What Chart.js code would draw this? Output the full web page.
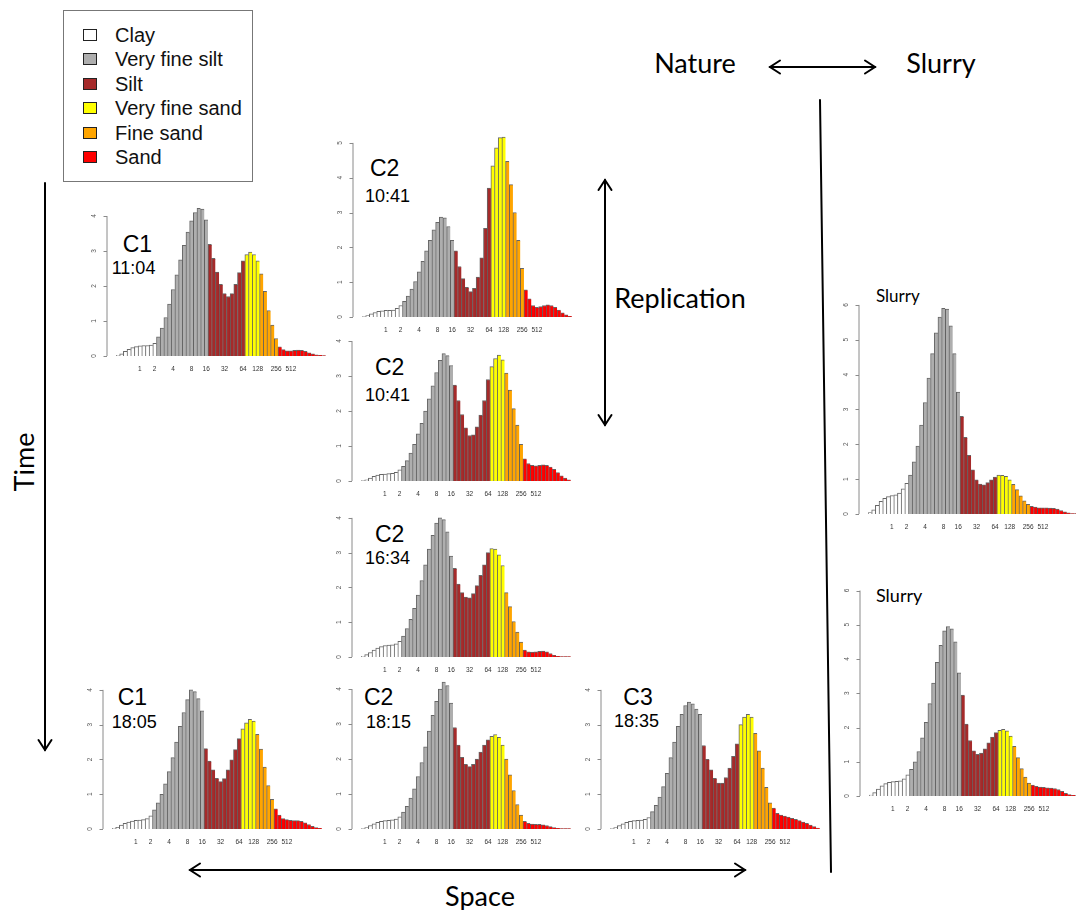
<!DOCTYPE html>
<html>
<head>
<meta charset="utf-8">
<script src="https://cdn.jsdelivr.net/npm/chart.js@4.4.1/dist/chart.umd.min.js"></script>
<style>
  html, body { margin: 0; padding: 0; background: #fff; }
  #stage { position: relative; width: 1076px; height: 910px; overflow: hidden; background: #fff; }
  #stage canvas { position: absolute; }
  #overlay { position: absolute; left: 0; top: 0; }
  #legend { position: absolute; left: 63px; top: 10px; width: 190px; height: 172px;
            border: 1px solid #777; box-sizing: border-box; font-family: "Liberation Sans", Arial, sans-serif; }
  .lrow { position: absolute; left: 0; height: 24px; line-height: 24px; font-size: 20px; color: #111; }
  .lsw { position: absolute; left: 19px; top: 6px; width: 12px; height: 10px; border: 1px solid #222; }
  .ltx { position: absolute; left: 51px; top: 0; white-space: nowrap; }
</style>
</head>
<body>
<div id="stage">
  <div id="legend"></div>
  <svg id="overlay" width="1076" height="910" xmlns="http://www.w3.org/2000/svg"></svg>
</div>
<script>
// Grain-size classes: first bin index of each class, names and fill colours
const CLASS_NAMES  = ['Clay', 'Very fine silt', 'Silt', 'Very fine sand', 'Fine sand', 'Sand'];
const CLASS_COLORS = ['#FFFFFF', '#AEAEAE', '#A52A2A', '#FFFF00', '#FFA500', '#FF0000'];
const CLASS_START  = [0, 11, 25, 35, 39, 44];
const BIN_COUNT    = 57;

// Size axis labels (µm) and the bins they sit under
const TICK_LABELS = ['1', '2', '4', '8', '16', '32', '64', '128', '256', '512'];
const TICK_BINS   = [6, 10, 15, 20, 24, 29, 34, 38, 43, 47];

// Volume percentage per bin for each sample
const c1_1104 = [0.02,0.06,0.13,0.19,0.24,0.27,0.29,0.30,0.30,0.31,0.36,
  0.55,0.80,1.10,1.48,1.90,2.32,2.75,3.16,3.54,3.86,4.10,4.22,4.20,3.89,
  3.19,2.79,2.40,2.05,1.78,1.70,1.78,2.05,2.38,2.72,
  2.90,2.97,2.90,2.72,
  2.35,1.85,1.30,0.88,0.50,
  0.26,0.18,0.15,0.15,0.16,0.17,0.16,0.13,0.09,0.06,0.03,0.02,0.01];
const c2_1041a = [0.01,0.04,0.09,0.13,0.16,0.18,0.19,0.19,0.20,0.25,0.33,
  0.45,0.60,0.80,1.02,1.30,1.60,1.90,2.20,2.50,2.72,2.87,2.85,2.60,2.20,
  1.90,1.45,1.10,0.85,0.73,0.82,1.15,1.70,2.55,3.70,
  4.34,4.86,5.15,5.17,
  4.47,3.80,3.00,2.20,1.40,
  0.78,0.52,0.33,0.28,0.30,0.33,0.35,0.33,0.28,0.20,0.12,0.06,0.02];
const c2_1041b = [0.01,0.03,0.08,0.13,0.17,0.19,0.20,0.21,0.22,0.25,0.32,
  0.42,0.58,0.80,1.05,1.35,1.65,2.00,2.35,2.72,3.10,3.45,3.64,3.58,3.30,
  2.74,2.30,1.90,1.52,1.30,1.32,1.55,1.88,2.30,2.90,
  3.27,3.50,3.60,3.46,
  3.08,2.60,2.07,1.60,1.05,
  0.63,0.50,0.45,0.43,0.45,0.46,0.45,0.40,0.33,0.24,0.15,0.08,0.03];
const c2_1634 = [0.02,0.07,0.13,0.20,0.26,0.30,0.33,0.34,0.35,0.38,0.45,
  0.60,0.82,1.08,1.40,1.78,2.20,2.65,3.10,3.50,3.85,4.00,3.95,3.60,2.90,
  2.55,2.10,1.85,1.72,1.70,1.82,2.05,2.35,2.65,3.00,
  3.12,3.10,2.94,2.63,
  1.85,1.45,1.02,0.72,0.43,
  0.20,0.15,0.14,0.15,0.16,0.17,0.15,0.10,0.05,0.02,0.01,0.01,0.01];
const c1_1805 = [0.02,0.05,0.11,0.16,0.20,0.23,0.25,0.26,0.27,0.30,0.38,
  0.55,0.75,1.00,1.30,1.65,2.05,2.50,2.95,3.35,3.72,4.00,3.95,3.75,3.40,
  2.31,1.95,1.70,1.46,1.36,1.45,1.70,1.99,2.28,2.60,
  2.88,3.05,3.15,3.10,
  2.72,2.30,1.78,1.25,0.85,
  0.58,0.40,0.30,0.27,0.25,0.24,0.24,0.22,0.18,0.13,0.08,0.04,0.02];
const c2_1815 = [0.01,0.04,0.10,0.15,0.19,0.22,0.24,0.25,0.26,0.28,0.35,
  0.48,0.65,0.88,1.15,1.50,1.90,2.35,2.80,3.25,3.65,4.00,4.20,4.10,3.60,
  2.90,2.40,2.05,1.85,1.78,1.85,2.00,2.20,2.40,2.55,
  2.65,2.70,2.62,2.40,
  2.00,1.55,1.10,0.70,0.40,
  0.22,0.16,0.14,0.13,0.13,0.12,0.10,0.07,0.04,0.02,0.01,0.01,0.01];
const c3_1835 = [0.01,0.04,0.10,0.15,0.19,0.22,0.24,0.25,0.26,0.28,0.33,
  0.50,0.68,0.92,1.22,1.60,2.05,2.50,2.95,3.30,3.55,3.65,3.60,3.45,3.30,
  2.40,2.00,1.70,1.46,1.32,1.32,1.48,1.75,2.09,2.45,
  3.00,3.22,3.30,3.22,
  2.75,2.25,1.75,1.20,0.75,
  0.60,0.45,0.40,0.37,0.34,0.31,0.28,0.24,0.20,0.16,0.11,0.07,0.03];
const slurry_a = [0.04,0.12,0.25,0.36,0.45,0.50,0.53,0.55,0.60,0.72,0.88,
  1.12,1.50,1.95,2.55,3.20,3.90,4.60,5.20,5.65,5.90,5.88,5.40,4.60,3.50,
  2.80,2.20,1.68,1.27,0.98,0.86,0.84,0.90,0.98,1.06,
  1.12,1.11,1.08,0.98,
  0.85,0.70,0.52,0.38,0.28,
  0.22,0.20,0.18,0.18,0.18,0.17,0.16,0.14,0.10,0.06,0.03,0.01,0.01];
const slurry_b = [0.03,0.10,0.20,0.30,0.36,0.40,0.42,0.43,0.44,0.50,0.62,
  0.78,1.00,1.30,1.70,2.15,2.70,3.30,3.90,4.40,4.82,4.95,4.88,4.50,3.60,
  2.95,2.10,1.62,1.32,1.22,1.25,1.38,1.55,1.72,1.85,
  1.92,1.95,1.90,1.75,
  1.45,1.12,0.80,0.55,0.38,
  0.32,0.28,0.26,0.25,0.24,0.23,0.22,0.19,0.14,0.08,0.04,0.02,0.01];

// Category labels: blank except under the labelled sizes
const binLabels = Array.from({length: BIN_COUNT}, (_, i) => {
  const k = TICK_BINS.indexOf(i);
  return k >= 0 ? TICK_LABELS[k] : '';
});
// Fill colour of every bin from its class
const binColors = Array.from({length: BIN_COUNT}, (_, i) => {
  let c = 0;
  for (let k = 0; k < CLASS_START.length; k++) if (i >= CLASS_START[k]) c = k;
  return CLASS_COLORS[c];
});

// Panel placement: left edge of first bar, baseline, px per unit, top axis tick
const panels = [
  { values: c1_1104,  x0: 116, base: 356, unit: 34.9, ymax: 4 },
  { values: c2_1041a, x0: 362, base: 317, unit: 34.8, ymax: 5 },
  { values: c2_1041b, x0: 361, base: 481, unit: 34.9, ymax: 4 },
  { values: c2_1634,  x0: 361, base: 657, unit: 34.85, ymax: 4 },
  { values: c1_1805,  x0: 112, base: 829, unit: 34.75, ymax: 4 },
  { values: c2_1815,  x0: 361, base: 829, unit: 34.9, ymax: 4 },
  { values: c3_1835,  x0: 610, base: 829, unit: 34.8, ymax: 4 },
  { values: slurry_a, x0: 868, base: 514, unit: 34.8, ymax: 6 },
  { values: slurry_b, x0: 869, base: 796, unit: 34.3, ymax: 6 }
];

const BAR_W = 3.77;
const HEADROOM = 0.6;           // value room above the top tick
const PAD_L = 34, PAD_R = 2, PAD_T = 2, PAD_B = 22;

// Draws an R-style y axis: detached line, short ticks, labels turned parallel to it
const rAxis = {
  id: 'rAxis',
  afterDraw(chart, args, opts) {
    const ys = chart.scales.y, ctx = chart.ctx;
    const ax = chart.chartArea.left - 9.5;
    const top = opts.top;
    const y0 = ys.getPixelForValue(0), y1 = ys.getPixelForValue(top);
    ctx.save();
    ctx.strokeStyle = '#8a8a8a';
    ctx.lineWidth = 1;
    ctx.beginPath();
    ctx.moveTo(ax + 0.5, y0);
    ctx.lineTo(ax + 0.5, y1);
    for (let v = 0; v <= top; v++) {
      const y = Math.round(ys.getPixelForValue(v)) + 0.5;
      ctx.moveTo(ax + 0.5, y);
      ctx.lineTo(ax - 3, y);
    }
    ctx.stroke();
    ctx.fillStyle = '#555';
    ctx.font = '6.5px "Liberation Sans", Arial, sans-serif';
    ctx.textAlign = 'center';
    ctx.textBaseline = 'middle';
    for (let v = 0; v <= top; v++) {
      ctx.save();
      ctx.translate(ax - 12, ys.getPixelForValue(v));
      ctx.rotate(-Math.PI / 2);
      ctx.fillText(String(v), 0, 0);
      ctx.restore();
    }
    ctx.restore();
  }
};

const stage = document.getElementById('stage');
panels.forEach(p => {
  const plotH = (p.ymax + HEADROOM) * p.unit;
  const w = Math.round(PAD_L + BIN_COUNT * BAR_W + PAD_R);
  const h = Math.round(PAD_T + plotH + PAD_B);
  const cv = document.createElement('canvas');
  cv.width = w; cv.height = h;
  cv.style.width = w + 'px'; cv.style.height = h + 'px';
  cv.style.left = (p.x0 - PAD_L) + 'px';
  cv.style.top = (p.base - (h - PAD_B)) + 'px';
  stage.appendChild(cv);
  new Chart(cv, {
    type: 'bar',
    data: {
      labels: binLabels,
      datasets: [{
        data: p.values,
        backgroundColor: binColors,
        borderColor: 'rgba(0,0,0,0.6)',
        borderWidth: { left: 1, top: 1, right: 0, bottom: 0 },
        borderSkipped: false,
        barPercentage: 1,
        categoryPercentage: 1
      }]
    },
    options: {
      responsive: false,
      animation: false,
      devicePixelRatio: 1,
      layout: { padding: { top: PAD_T, right: PAD_R, left: 0, bottom: 0 } },
      plugins: { legend: { display: false }, tooltip: { enabled: false }, rAxis: { top: p.ymax } },
      scales: {
        x: {
          grid: { display: false, drawTicks: false },
          border: { display: false },
          ticks: {
            autoSkip: false, maxRotation: 0, minRotation: 0, padding: 9,
            color: '#333', font: { size: 6.5, family: '"Liberation Sans", Arial, sans-serif' }
          },
          afterFit: s => { s.height = PAD_B; }
        },
        y: {
          min: 0, max: p.ymax + HEADROOM,
          grid: { display: false },
          border: { display: false },
          ticks: { display: false, stepSize: 1 },
          afterFit: s => { s.width = PAD_L; }
        }
      }
    },
    plugins: [rAxis]
  });
});

// Legend
const legend = document.getElementById('legend');
CLASS_NAMES.forEach((name, i) => {
  const row = document.createElement('div');
  row.className = 'lrow';
  row.style.top = (12 + i * 24.4) + 'px';
  row.innerHTML = '<span class="lsw" style="background:' + CLASS_COLORS[i] + '"></span><span class="ltx">' + name + '</span>';
  legend.appendChild(row);
});

// Annotations: arrows, divider and captions
const svg = document.getElementById('overlay');
const NS = 'http://www.w3.org/2000/svg';
function el(tag, attrs, text) {
  const e = document.createElementNS(NS, tag);
  for (const k in attrs) e.setAttribute(k, attrs[k]);
  if (text) e.textContent = text;
  svg.appendChild(e);
  return e;
}
function line(x1, y1, x2, y2, w) {
  el('line', { x1, y1, x2, y2, stroke: '#000', 'stroke-width': w || 2, 'stroke-linecap': 'round' });
}
function head(x, y, dx, dy) {
  // chevron at (x,y) pointing along (dx,dy)
  const L = 10, H = 6.5;
  const px = -dy, py = dx;
  el('polyline', {
    points: (x - dx * L + px * H) + ',' + (y - dy * L + py * H) + ' ' + x + ',' + y + ' ' +
            (x - dx * L - px * H) + ',' + (y - dy * L - py * H),
    fill: 'none', stroke: '#000', 'stroke-width': 2, 'stroke-linejoin': 'miter', 'stroke-linecap': 'round'
  });
}
// Time (downwards)
line(45, 183, 45, 750); head(45, 750, 0, 1);
// Space (both ways)
line(190, 870, 745, 870); head(190, 870, -1, 0); head(745, 870, 1, 0);
// Replication (both ways)
line(605, 180, 605, 425); head(605, 180, 0, -1); head(605, 425, 0, 1);
// Nature <-> Slurry
line(770, 67, 875, 67); head(770, 67, -1, 0); head(875, 67, 1, 0);
// Divider
line(820, 100, 831, 872, 2);

const CAP = 'Lato, "Open Sans", sans-serif';
el('text', { x: 695, y: 73, 'font-family': CAP, 'font-size': 27, 'text-anchor': 'middle', fill: '#000' }, 'Nature');
el('text', { x: 941, y: 73, 'font-family': CAP, 'font-size': 27, 'text-anchor': 'middle', fill: '#000' }, 'Slurry');
el('text', { x: 680, y: 308, 'font-family': CAP, 'font-size': 27, 'text-anchor': 'middle', fill: '#000' }, 'Replication');
el('text', { x: 480, y: 906, 'font-family': CAP, 'font-size': 27, 'text-anchor': 'middle', fill: '#000' }, 'Space');
el('text', { x: 0, y: 0, 'font-family': CAP, 'font-size': 27, 'text-anchor': 'middle', fill: '#000',
             transform: 'translate(34,462) rotate(-90)' }, 'Time');

// Sample names and times
const ARIAL = '"Liberation Sans", Arial, sans-serif';
const tags = [
  ['C1', 122.7, 251.5, '11:04', 111.7, 274.3],
  ['C2', 370, 175.7, '10:41', 365, 201.7],
  ['C2', 375, 375, '10:41', 365, 400.7],
  ['C2', 375, 542.3, '16:34', 365, 564.3],
  ['C1', 117.7, 705, '18:05', 111.7, 728.3],
  ['C2', 364, 705, '18:15', 366, 728.3],
  ['C3', 623.3, 705, '18:35', 614, 726.7]
];
tags.forEach(t => {
  el('text', { x: t[1], y: t[2], 'font-family': ARIAL, 'font-size': 23, fill: '#000' }, t[0]);
  el('text', { x: t[4], y: t[5], 'font-family': ARIAL, 'font-size': 18, fill: '#000' }, t[3]);
});
el('text', { x: 876, y: 302, 'font-family': CAP, 'font-size': 17, fill: '#000' }, 'Slurry');
el('text', { x: 876, y: 602, 'font-family': CAP, 'font-size': 18, fill: '#000' }, 'Slurry');
</script>
</body>
</html>
